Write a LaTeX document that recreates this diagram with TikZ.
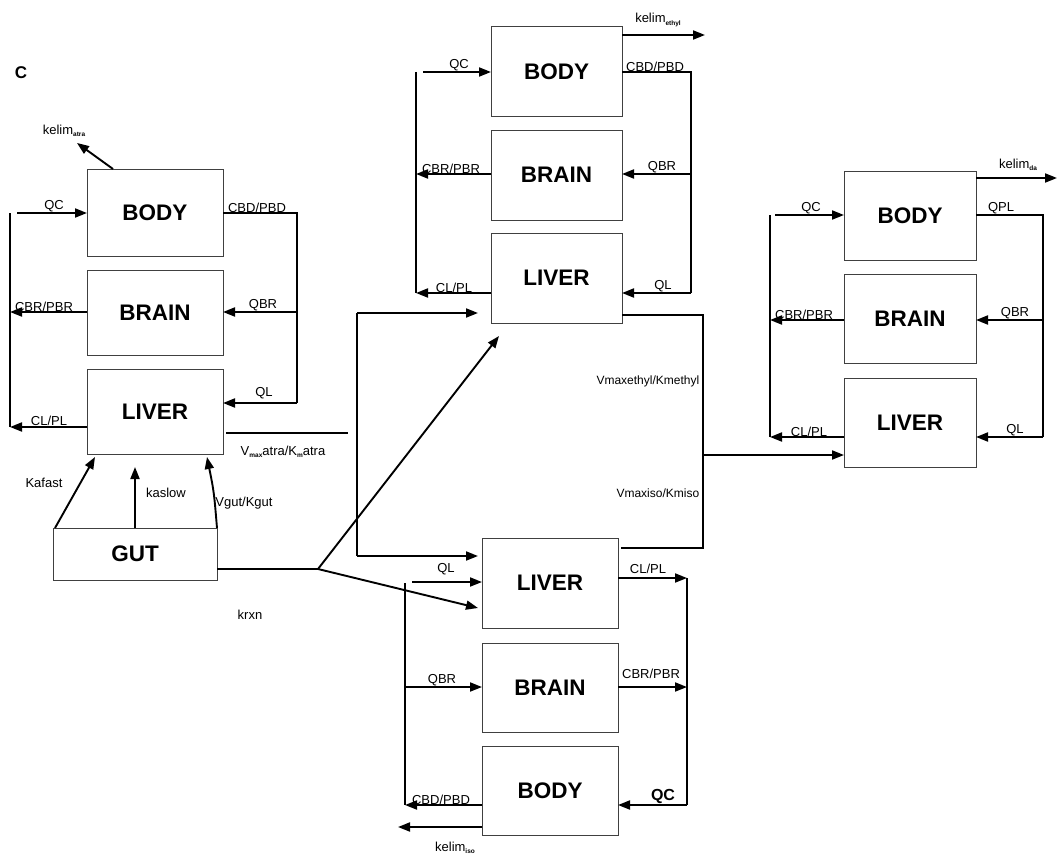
\documentclass[tikz,border=0pt]{standalone}
\usepackage{fontspec}
\setmainfont{Liberation Sans}
\usetikzlibrary{arrows.meta}
\newcommand\mysub[1]{\raisebox{-2.5pt}{\fontsize{6.5}{7}\selectfont\bfseries #1}}
\begin{document}
\begin{tikzpicture}[x=1pt,y=-1pt,
  comp/.style={draw=black!75, line width=1pt, inner sep=0pt, outer sep=0pt, anchor=north west, font=\fontsize{22.5}{26}\selectfont\bfseries},
  flow/.style={line width=1.9pt, -{Triangle[length=12pt,width=9pt]}},
  wire/.style={line width=2.1pt},
  lab/.style={font=\fontsize{13}{15}\selectfont, inner sep=0.6pt, anchor=south},
  clab/.style={font=\fontsize{13}{15}\selectfont, inner sep=0.6pt, anchor=center},
  vlab/.style={font=\fontsize{12}{14}\selectfont, inner sep=0.6pt, anchor=east},
]
\useasboundingbox (0,0) rectangle (1059,856);

% ---------------- boxes ----------------
\node[font=\fontsize{17}{20}\selectfont\bfseries] (clabel) at (21,73) {C};
\node[comp, minimum width=136pt, minimum height=87pt] (lbody) at (87,169) {BODY};
\node[comp, minimum width=136pt, minimum height=85pt] (lbrain) at (87,270) {BRAIN};
\node[comp, minimum width=136pt, minimum height=85pt] (lliver) at (87,369) {LIVER};
\node[comp, minimum width=164pt, minimum height=52pt] (gut) at (53,528) {GUT};

\node[comp, minimum width=131pt, minimum height=90pt] (tbody) at (491,27) {BODY};
\node[comp, minimum width=131pt, minimum height=90pt] (tbrain) at (491,130) {BRAIN};
\node[comp, minimum width=131pt, minimum height=90pt] (tliver) at (491,233) {LIVER};

\node[comp, minimum width=132pt, minimum height=89pt] (rbody) at (844,171) {BODY};
\node[comp, minimum width=132pt, minimum height=89pt] (rbrain) at (844,274) {BRAIN};
\node[comp, minimum width=132pt, minimum height=89pt] (rliver) at (844,378) {LIVER};

\node[comp, minimum width=136pt, minimum height=90pt] (bliver) at (482,538) {LIVER};
\node[comp, minimum width=136pt, minimum height=89pt] (bbrain) at (482,643) {BRAIN};
\node[comp, minimum width=136pt, minimum height=89pt] (bbody) at (482,746) {BODY};

% ---------------- left module ----------------
\coordinate (lqc) at (17,213);
\coordinate (lLt) at (10,213);
\coordinate (lLb) at (10,427);
\coordinate (lRt) at (297,213);
\coordinate (lRb) at (297,403);
\coordinate (lqbr) at (297,312);
\draw[wire] (lLt) -- (lLb);
\draw[wire] (lbody.east |- lRt) -- (lRt) -- (lRb);
\draw[flow] (lqc) -- (lqc -| lbody.west);
\draw[flow] (lqbr) -- (lqbr -| lbrain.east);
\draw[flow] (lRb) -- (lRb -| lliver.east);
\draw[flow] (lqbr -| lbrain.west) -- (lqbr -| lLt);
\draw[flow] (lLb -| lliver.west) -- (lLb);

\coordinate (kat) at (113,169);
\coordinate (kah) at (77,143);
\draw[flow] (kat) -- (kah);
\node[clab] (kelatra) at (64,131) {kelim\mysub{atra}};

\node[lab] (l1) at (54,213) {QC};
\node[lab] (l2) at (257,213) {CBD/PBD};
\node[lab] (l3) at (44,312) {CBR/PBR};
\node[lab] (l4) at (263,312) {QBR};
\node[lab] (l5) at (264,400) {QL};
\node[lab] (l6) at (49,426) {CL/PL};

\coordinate (va1) at (226,433);
\coordinate (va2) at (348,433);
\draw[wire] (va1) -- (va2);
\node[clab] (vatra) at (283,452) {V\mysub{max}atra/K\mysub{m}atra};

% gut arrows
\coordinate (kaf) at (95,457);
\coordinate (kas) at (135,467);
\coordinate (vg) at (207,457);
\draw[flow] ([xshift=2pt]gut.north west) -- (kaf);
\draw[flow] (gut.north) -- (gut.north |- kas);
\draw[flow] (gut.north east) .. controls (214,492) .. (vg);
\node[clab] (kafast) at (44,483) {Kafast};
\node[clab] (kaslow) at (166,493) {kaslow};
\node[clab] (vgut) at (244,503) {Vgut/Kgut};

\coordinate (gj) at (318,569);
\coordinate (tdiag) at (499,336);
\coordinate (bdiag) at (478,608);
\draw[wire] (gut.east |- gj) -- (gj);
\draw[flow] (gj) -- (tdiag);
\draw[flow] (gj) -- (bdiag);
\node[clab] (krxn) at (250,615) {krxn};

% ---------------- top module ----------------
\coordinate (tqc) at (423,72);
\coordinate (tLt) at (416,72);
\coordinate (tLb) at (416,293);
\coordinate (tRt) at (691,72);
\coordinate (tRb) at (691,293);
\coordinate (tqbr) at (691,174);
\draw[wire] (tLt) -- (tLb);
\draw[wire] (tbody.east |- tRt) -- (tRt) -- (tRb);
\draw[flow] (tqc) -- (tqc -| tbody.west);
\draw[flow] (tqbr) -- (tqbr -| tbrain.east);
\draw[flow] (tRb) -- (tRb -| tliver.east);
\draw[flow] (tqbr -| tbrain.west) -- (tqbr -| tLt);
\draw[flow] (tLb -| tliver.west) -- (tLb);
\coordinate (tke) at (705,35);
\draw[flow] (tke -| tbody.east) -- (tke);
\node[clab] (kelethyl) at (658,20) {kelim\mysub{ethyl}};

\node[lab] (t1) at (459,72) {QC};
\node[lab] (t2) at (655,72) {CBD/PBD};
\node[lab] (t3) at (451,174) {CBR/PBR};
\node[lab] (t4) at (662,174) {QBR};
\node[lab] (t5) at (663,293) {QL};
\node[lab] (t6) at (454,293) {CL/PL};

% ---------------- middle connections ----------------
\coordinate (m1) at (357,313);
\coordinate (m2) at (357,556);
\draw[wire] (m1) -- (m2);
\draw[flow, shorten >=13pt] (m1) -- (m1 -| tliver.west);
\draw[flow, shorten >=4pt] (m2) -- (m2 -| bliver.west);

\coordinate (e1) at (703,315);
\coordinate (e2) at (703,548);
\coordinate (e3) at (703,455);
\draw[wire] (tliver.east |- e1) -- (e1) -- (e2) -- ([xshift=3pt]e2 -| bliver.east);
\draw[flow] (e3) -- (e3 -| rliver.west);
\node[vlab] (vethyl) at (700,381) {Vmaxethyl/Kmethyl};
\node[vlab] (viso) at (700,493) {Vmaxiso/Kmiso};

% ---------------- right module ----------------
\coordinate (rqc) at (775,215);
\coordinate (rLt) at (770,215);
\coordinate (rLb) at (770,437);
\coordinate (rRt) at (1043,215);
\coordinate (rRb) at (1043,437);
\coordinate (rqbr) at (1043,320);
\draw[wire] (rLt) -- (rLb);
\draw[wire] (rbody.east |- rRt) -- (rRt) -- (rRb);
\draw[flow] (rqc) -- (rqc -| rbody.west);
\draw[flow] (rqbr) -- (rqbr -| rbrain.east);
\draw[flow] (rRb) -- (rRb -| rliver.east);
\draw[flow] (rqbr -| rbrain.west) -- (rqbr -| rLt);
\draw[flow] (rLb -| rliver.west) -- (rLb);
\coordinate (rke) at (1057,178);
\draw[flow] (rke -| rbody.east) -- (rke);
\node[clab] (kelda) at (1018,165) {kelim\mysub{da}};

\node[lab] (r1) at (811,215) {QC};
\node[lab] (r2) at (1001,215) {QPL};
\node[lab] (r3) at (804,320) {CBR/PBR};
\node[lab] (r4) at (1015,320) {QBR};
\node[lab] (r5) at (1015,437) {QL};
\node[lab] (r6) at (809,437) {CL/PL};

% ---------------- bottom module ----------------
\coordinate (bLt) at (405,583);
\coordinate (bLb) at (405,805);
\coordinate (bRt) at (687,578);
\coordinate (bRb) at (687,805);
\coordinate (bql) at (412,582);
\coordinate (bbr) at (405,687);
\coordinate (bke) at (398,827);
\draw[wire] (bLt) -- (bLb);
\draw[wire] (bRt) -- (bRb);
\draw[flow] (bql) -- (bql -| bliver.west);
\draw[flow] (bbr) -- (bbr -| bbrain.west);
\draw[flow] (bLb -| bbody.west) -- (bLb);
\draw[flow] (bke -| bbody.west) -- (bke);
\draw[flow] (bRt -| bliver.east) -- (bRt);
\draw[flow] (bbr -| bbrain.east) -- (bbr -| bRt);
\draw[flow] (bRb) -- (bRb -| bbody.east);

\node[clab] (b1) at (446,569) {QL};
\node[clab] (b2) at (648,569) {CL/PL};
\node[clab] (b3) at (651,674) {CBR/PBR};
\node[lab] (b4) at (442,687) {QBR};
\node[lab] (b5) at (441,805) {CBD/PBD};
\node[clab, font=\fontsize{16}{18}\selectfont\bfseries] (b6) at (663,796) {QC};
\node[clab] (keliso) at (455,848) {kelim\mysub{iso}};
\end{tikzpicture}
\end{document}
